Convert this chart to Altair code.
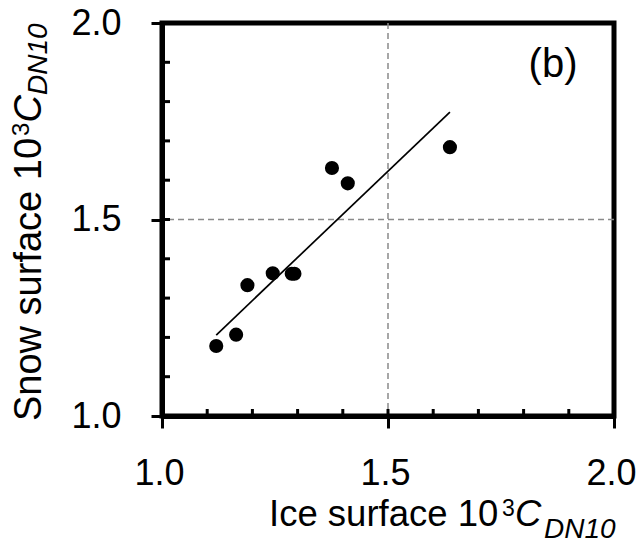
import altair as alt
import pandas as pd

# Drag coefficients (x 10^3) over ice and snow surfaces
ice_cd = [1.120, 1.164, 1.189, 1.245, 1.287, 1.293, 1.376, 1.411, 1.637]
snow_cd = [1.178, 1.207, 1.333, 1.363, 1.362, 1.362, 1.631, 1.592, 1.684]

# Linear fit endpoints
fit_x = [1.120, 1.637]
fit_y = [1.206, 1.773]

# Reference lines and tick positions
ref_x = [1.5]
ref_y = [1.5]
major_ticks = [1.0, 1.5, 2.0]
minor_ticks = [1.1, 1.2, 1.3, 1.4, 1.5, 1.6, 1.7, 1.8, 1.9]

W, H = 452, 393
FONT = "Liberation Sans"
LINE_W = 5

pts = pd.DataFrame({"ice": ice_cd, "snow": snow_cd})
fit = pd.DataFrame({"ice": fit_x, "snow": fit_y})
one = pd.DataFrame({"k": [0]})

xs = alt.Scale(domain=[1.0, 2.0], nice=False, zero=False)
ys = alt.Scale(domain=[1.0, 2.0], nice=False, zero=False)

x_axis = alt.Axis(
    values=major_ticks, format=".1f", title=None, grid=False,
    tickSize=12, tickWidth=3, tickColor="black",
    domainWidth=LINE_W, domainColor="black",
    labelFontSize=36, labelFont=FONT, labelColor="black",
    labelPadding=28, labelFlush=False, labelOffset=-3,
)
y_axis = alt.Axis(
    values=major_ticks, format=".1f", title=None, grid=False,
    tickSize=11, tickWidth=3, tickColor="black",
    domainWidth=LINE_W, domainColor="black",
    labelFontSize=36, labelFont=FONT, labelColor="black",
    labelPadding=30, labelFlush=False,
)

points = alt.Chart(pts).mark_circle(size=200, color="black", opacity=1).encode(
    x=alt.X("ice:Q", scale=xs, axis=x_axis),
    y=alt.Y("snow:Q", scale=ys, axis=y_axis),
)

fit_line = alt.Chart(fit).mark_line(color="black", strokeWidth=1.7).encode(
    x=alt.X("ice:Q", scale=xs), y=alt.Y("snow:Q", scale=ys)
)

vgrid = alt.Chart(pd.DataFrame({"v": ref_x})).mark_rule(
    color="#8a8a8a", strokeWidth=1.5, strokeDash=[6, 4]
).encode(x=alt.X("v:Q", scale=xs))
hgrid = alt.Chart(pd.DataFrame({"v": ref_y})).mark_rule(
    color="#8a8a8a", strokeWidth=1.5, strokeDash=[6, 4]
).encode(y=alt.Y("v:Q", scale=ys))

# Inward-pointing ticks along the bottom and left axes
x_inner = alt.Chart(pd.DataFrame({"v": minor_ticks})).mark_rule(
    color="black", strokeWidth=3
).encode(x=alt.X("v:Q", scale=xs), y=alt.value(H), y2=alt.value(H - 7))
y_inner = alt.Chart(pd.DataFrame({"v": minor_ticks})).mark_rule(
    color="black", strokeWidth=3
).encode(y=alt.Y("v:Q", scale=ys), x=alt.value(0), x2=alt.value(8))


def label(text, x, y, size, italic=False, angle=0, align="left"):
    kw = dict(text=text, font=FONT, fontSize=size, color="black",
              align=align, baseline="alphabetic")
    if italic:
        kw["fontStyle"] = "italic"
    if angle:
        kw["angle"] = angle
    return alt.Chart(one).mark_text(**kw).encode(x=alt.value(x), y=alt.value(y))


# Axis titles: 10^3 C_DN10 built from pieces
x_title = [
    label("Ice surface 10", 107, 503, 36.5),
    label("3", 340, 492.5, 23),
    label("C", 353, 503, 36.5, italic=True),
    label("DN10", 382, 514.5, 28, italic=True),
]
y_title = [
    label("Snow surface 10", -121.5, 398, 38, angle=270),
    label("3", -133.5, 113, 24, angle=270),
    label("C", -121.5, 99.5, 38, italic=True, angle=270),
    label("DN10", -115, 72, 28, italic=True, angle=270),
]
panel = label("(b)", 391, 54, 40, align="center")

chart = alt.layer(
    vgrid, hgrid, fit_line, points, x_inner, y_inner, panel, *x_title, *y_title
).properties(
    width=W, height=H,
    autosize=alt.AutoSizeParams(type="none"),
    padding={"left": 162, "top": 23, "right": 22, "bottom": 128},
).configure_view(
    stroke="black", strokeWidth=LINE_W
)

chart.save("out.html", embed_options={"renderer": "svg", "actions": False})
